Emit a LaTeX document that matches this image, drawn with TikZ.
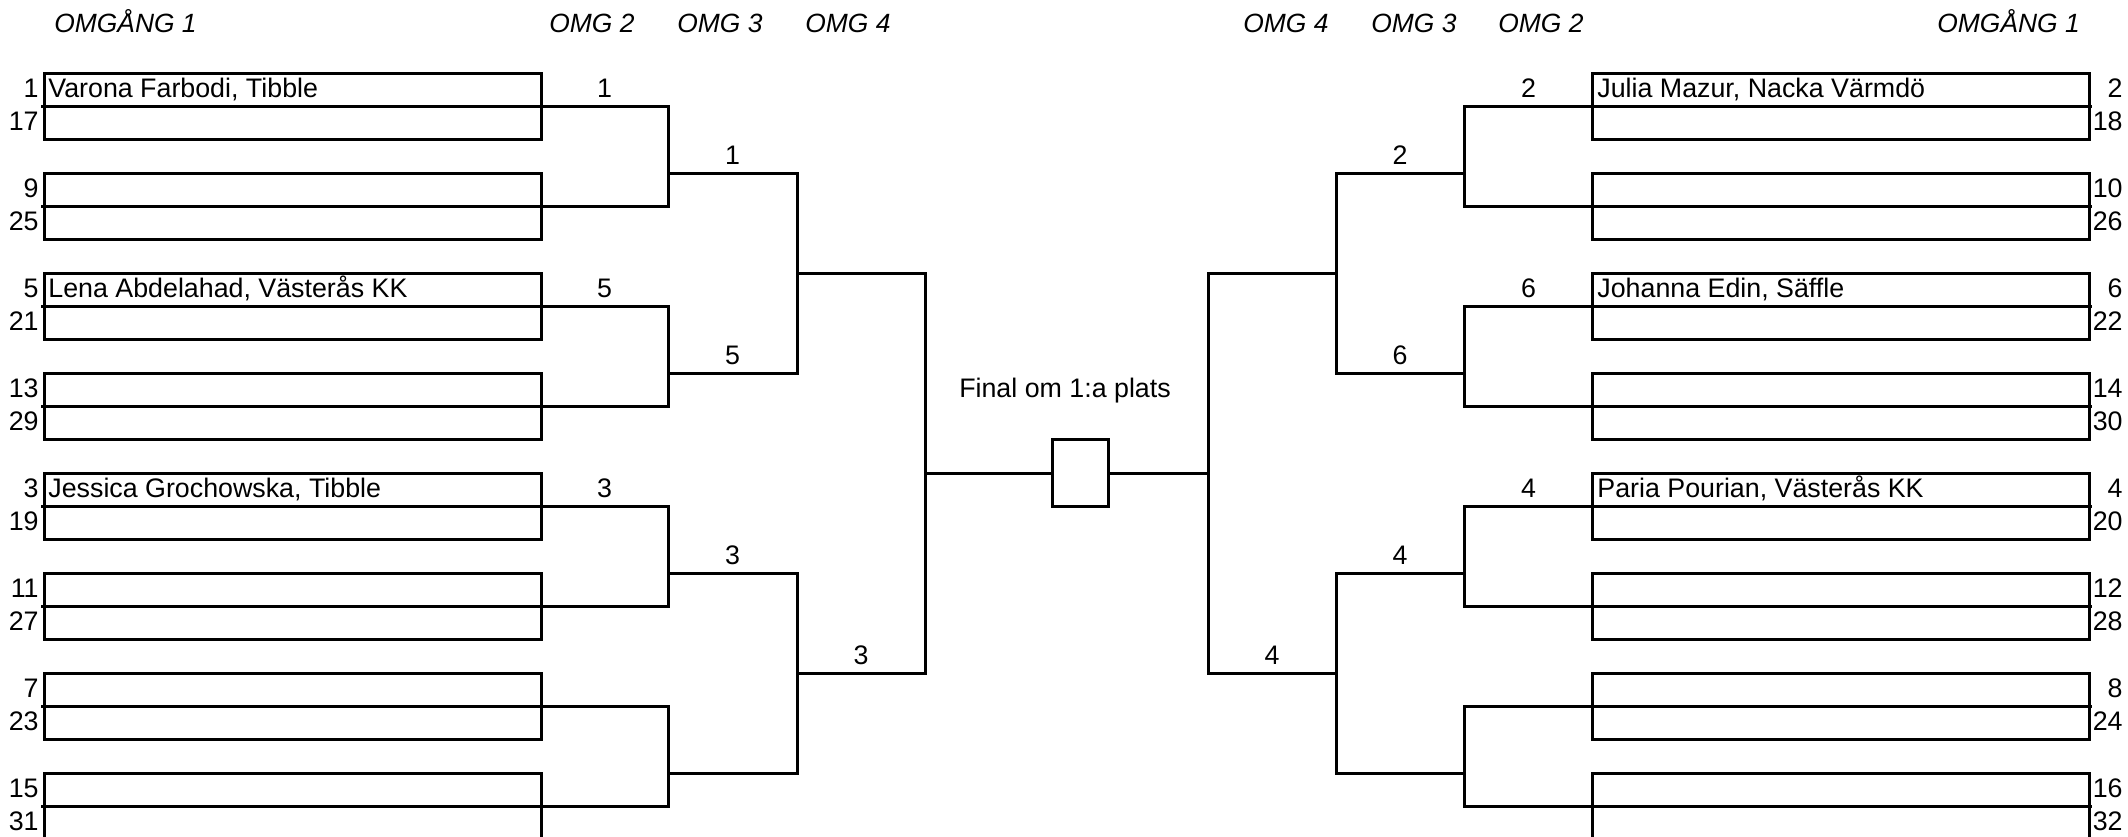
\documentclass[tikz,border=0pt]{standalone}
\usepackage{fontspec}
\setmainfont{Liberation Sans}
\begin{document}
\begin{tikzpicture}[x=0.5pt,y=-0.5pt,
  ln/.style={line width=1.5pt,line cap=rect,line join=miter},
  pbox/.style={draw,line width=1.5pt,minimum width=248.5pt,minimum height=33.333pt,inner sep=0pt},
  fbox/.style={draw,line width=1.5pt,minimum width=28pt,minimum height=33.333pt,inner sep=0pt},
  txt/.style={inner sep=0pt,font=\fontsize{13.4}{15}\selectfont},
  seedL/.style={txt,anchor=base east},
  seedR/.style={txt,anchor=base east},
  nm/.style={txt,anchor=base west},
  lab/.style={txt,anchor=base},
  hdr/.style={inner sep=0pt,anchor=base west,font=\fontsize{13.2}{15}\selectfont\itshape}]
\useasboundingbox (0,0) rectangle (2128,836);

% headers
\node[hdr] (h1) at (54,32) {OMGÅNG 1};
\node[hdr] (h2) at (549,32) {OMG 2};
\node[hdr] (h3) at (677,32) {OMG 3};
\node[hdr] (h4) at (805,32) {OMG 4};
\node[hdr] (h5) at (1243,32) {OMG 4};
\node[hdr] (h6) at (1371,32) {OMG 3};
\node[hdr] (h7) at (1498,32) {OMG 2};
\node[hdr] (h8) at (1937,32) {OMGÅNG 1};

% first-round boxes
\foreach \k in {0,...,7} {
  \node[pbox] (L\k) at (292.5,106.333+100*\k) {};
  \node[pbox] (R\k) at (1840.5,106.333+100*\k) {};
  \coordinate (LB\k) at (668,106.333+100*\k);
  \coordinate (RB\k) at (1464,106.333+100*\k);
  \draw[ln] (L\k.west) -- (LB\k);
  \draw[ln] (R\k.east) -- (RB\k);
}

% seeds
\foreach \k/\a/\b in {0/1/17,1/9/25,2/5/21,3/13/29,4/3/19,5/11/27,6/7/23,7/15/31} {
  \node[seedL] (ls\a) at (39,97+100*\k) {\a};
  \node[seedL] (ls\b) at (39,130.333+100*\k) {\b};
}
\foreach \k/\a/\b in {0/2/18,1/10/26,2/6/22,3/14/30,4/4/20,5/12/28,6/8/24,7/16/32} {
  \node[seedR] (rs\a) at (2123,97+100*\k) {\a};
  \node[seedR] (rs\b) at (2123,130.333+100*\k) {\b};
}

% names
\node[nm] (n1) at (48,97) {Varona Farbodi, Tibble};
\node[nm] (n5) at (48,297) {Lena Abdelahad, Västerås KK};
\node[nm] (n3) at (48,497) {Jessica Grochowska, Tibble};
\node[nm] (n2) at (1597,97) {Julia Mazur, Nacka Värmdö};
\node[nm] (n6) at (1597,297) {Johanna Edin, Säffle};
\node[nm] (n4) at (1597,497) {Paria Pourian, Västerås KK};

% final box
\node[fbox] (F) at (1080,473) {};
\node[lab] (ftxt) at (1065,397) {Final om 1:a plats};

% brackets, second round
\foreach \j/\a/\b/\y in {0/0/1/173,1/2/3/373,2/4/5/573,3/6/7/773} {
  \draw[ln] (LB\a) -- (LB\b);
  \coordinate (LP\j) at (668,\y);
  \coordinate (LQ\j) at (797,\y);
  \draw[ln] (LP\j) -- (LQ\j);
  \coordinate (RP\j) at (1464,\y);
  \coordinate (RQ\j) at (1336,\y);
  \draw[ln] (RB\a) -- (RB\b);
  \draw[ln] (RP\j) -- (RQ\j);
}
% third round
\foreach \m/\a/\b/\y in {0/0/1/273,1/2/3/673} {
  \draw[ln] (LQ\a) -- (LQ\b);
  \coordinate (LS\m) at (797,\y);
  \coordinate (LT\m) at (925,\y);
  \draw[ln] (LS\m) -- (LT\m);
  \draw[ln] (RQ\a) -- (RQ\b);
  \coordinate (RS\m) at (1336,\y);
  \coordinate (RT\m) at (1208,\y);
  \draw[ln] (RS\m) -- (RT\m);
}
% fourth round
\draw[ln] (LT0) -- (LT1);
\draw[ln] (RT0) -- (RT1);
\coordinate (LU) at (925,473);
\coordinate (RU) at (1208,473);
\draw[ln] (LU) -- (F.west);
\draw[ln] (F.east) -- (RU);

% winner labels
\node[lab] (a21) at (604.5,97.333) {1};
\node[lab] (a25) at (604.5,297.333) {5};
\node[lab] (a23) at (604.5,497.333) {3};
\node[lab] (a31) at (732.5,164) {1};
\node[lab] (a35) at (732.5,364) {5};
\node[lab] (a33) at (732.5,564) {3};
\node[lab] (a43) at (861,664) {3};
\node[lab] (b22) at (1528.5,97.333) {2};
\node[lab] (b26) at (1528.5,297.333) {6};
\node[lab] (b24) at (1528.5,497.333) {4};
\node[lab] (b32) at (1400,164) {2};
\node[lab] (b36) at (1400,364) {6};
\node[lab] (b34) at (1400,564) {4};
\node[lab] (b44) at (1272,664) {4};
\end{tikzpicture}
\end{document}
